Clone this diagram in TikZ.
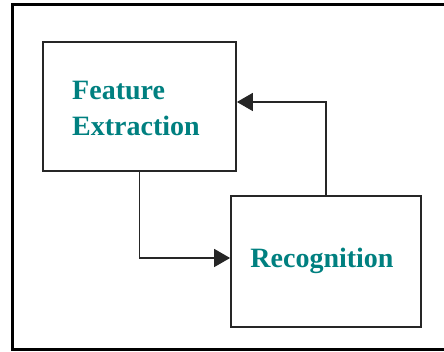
\documentclass[tikz,border=0pt]{standalone}
\usepackage{fontspec}
\setmainfont{Liberation Serif}
\usetikzlibrary{arrows.meta}
\definecolor{teal1}{RGB}{0,128,128}
\tikzset{
  box/.style={draw=black!85, line width=1.8pt, fill=white, inner sep=0pt},
  lbl/.style={text=teal1, font=\bfseries\fontsize{28}{36}\selectfont, align=left},
  conn/.style={draw=black!85, line width=1.6pt, -{Triangle[length=16pt,width=18pt]}}
}
\begin{document}
\begin{tikzpicture}[x=1pt,y=1pt]
\useasboundingbox (0,0) rectangle (444,352);
\fill[white] (0,0) rectangle (444,352);
\draw[line width=3pt] (12,2) rectangle (450,347);
\node[box, minimum width=193pt, minimum height=129pt] (fe) at (139.5,245.5) {};
\node[lbl] (fet) at (136,244) {Feature\\Extraction};
\node[box, minimum width=190pt, minimum height=131pt] (rec) at (326,90.5) {};
\node[lbl] (rect) at (322,91.5) {Recognition};
\draw[conn] (fe.south) |- ([yshift=3.5pt]rec.west);
\draw[conn] (rec.north) |- ([yshift=4.5pt]fe.east);
\end{tikzpicture}
\end{document}
